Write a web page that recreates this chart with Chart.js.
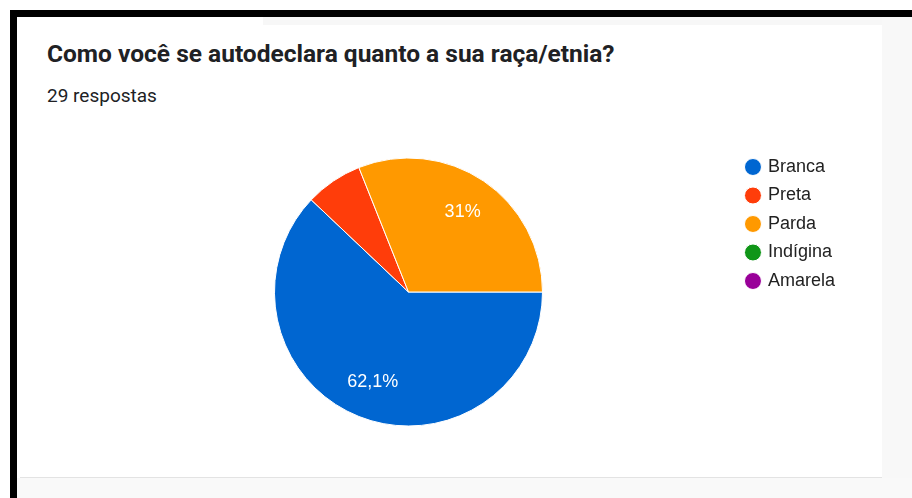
<!DOCTYPE html>
<html lang="pt-BR">
<head>
<meta charset="utf-8">
<script src="https://cdn.jsdelivr.net/npm/chart.js@4/dist/chart.umd.min.js"></script>
<style>
  html, body { margin: 0; padding: 0; background: #fff; }
  #frame { position: relative; width: 912px; height: 498px; overflow: hidden; background: #fff; }
  .bar-top { position: absolute; left: 10px; top: 10px; width: 902px; height: 7px; background: #000; }
  .bar-left { position: absolute; left: 10px; top: 10px; width: 7px; height: 488px; background: #000; }
  .strip { position: absolute; left: 263px; top: 17px; width: 649px; height: 8px; background: #f7f7f7; }
  .side { position: absolute; left: 882px; top: 17px; width: 30px; height: 481px; background: #f8f8f8; }
  .foot { position: absolute; left: 17px; top: 478px; width: 895px; height: 20px; background: #f9f9f9; }
  .rule { position: absolute; left: 20px; top: 477px; width: 862px; height: 1px; background: #e3e3e3; }
  h1 { position: absolute; left: 47px; top: 39px; margin: 0; font: 700 24.5px Roboto, sans-serif; color: #202124; white-space: nowrap; }
  .count { position: absolute; left: 47px; top: 84px; font: 400 19px Roboto, sans-serif; color: #202124; }
  canvas { position: absolute; left: 0; top: 0; }
</style>
</head>
<body>
<div id="frame">
  <div class="bar-top"></div>
  <div class="bar-left"></div>
  <div class="strip"></div>
  <div class="side"></div>
  <div class="foot"></div>
  <div class="rule"></div>
  <h1>Como você se autodeclara quanto a sua raça/etnia?</h1>
  <div class="count">29 respostas</div>
  <canvas id="chart" width="912" height="498"></canvas>
</div>
<script>
const categorias = ['Branca', 'Preta', 'Parda', 'Indígina', 'Amarela'];
const respostas = [18, 2, 9, 0, 0];
const cores = ['#0066d1', '#ff3d0a', '#ff9900', '#109618', '#990099'];

const total = respostas.reduce((a, b) => a + b, 0);
const fmt = new Intl.NumberFormat('pt-BR', { maximumFractionDigits: 1 });

// percentage text inside the larger slices
const sliceLabels = {
  id: 'sliceLabels',
  afterDatasetsDraw(chart) {
    const ctx = chart.ctx;
    const meta = chart.getDatasetMeta(0);
    ctx.save();
    ctx.font = '18px "Liberation Sans", Arial, sans-serif';
    ctx.fillStyle = '#fff';
    ctx.textAlign = 'center';
    ctx.textBaseline = 'middle';
    meta.data.forEach((arc, i) => {
      const share = respostas[i] / total;
      if (share < 0.1) return;
      const p = arc.getProps(['x', 'y', 'startAngle', 'endAngle', 'outerRadius'], true);
      const mid = (p.startAngle + p.endAngle) / 2;
      const r = p.outerRadius * 0.72;
      ctx.fillText(fmt.format(share * 100) + '%', p.x + Math.cos(mid) * r, p.y + Math.sin(mid) * r);
    });
    ctx.restore();
  }
};

new Chart(document.getElementById('chart').getContext('2d'), {
  type: 'pie',
  data: {
    labels: categorias,
    datasets: [{
      data: respostas,
      backgroundColor: cores,
      borderColor: '#fff',
      borderWidth: 1,
      radius: 134
    }]
  },
  options: {
    responsive: false,
    animation: false,
    devicePixelRatio: 1,
    rotation: 90,
    layout: { padding: { top: 147.5, bottom: 61.5, left: 80.5, right: 67 } },
    plugins: {
      tooltip: { enabled: false },
      legend: {
        position: 'right',
        align: 'start',
        labels: {
          usePointStyle: true,
          pointStyle: 'circle',
          boxWidth: 12,
          boxHeight: 12,
          padding: 10.5,
          color: '#222',
          font: { family: '"Liberation Sans", Arial, sans-serif', size: 18 }
        }
      }
    }
  },
  plugins: [sliceLabels]
});
</script>
</body>
</html>
